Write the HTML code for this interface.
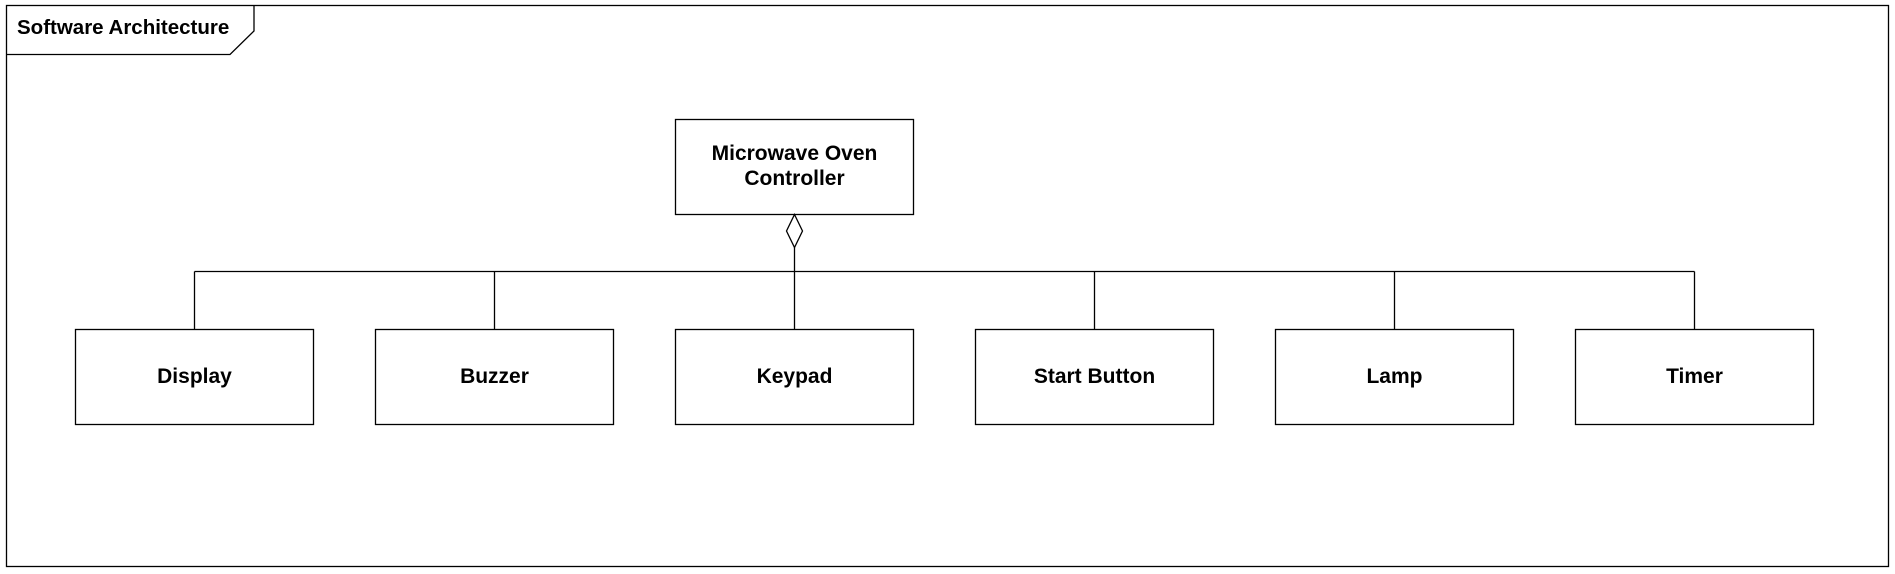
<!DOCTYPE html>
<html><head><meta charset="utf-8"><style>
html,body{margin:0;padding:0;background:#fff;}
svg{display:block;}
text{font-family:"Liberation Sans",Arial,sans-serif;font-weight:bold;font-size:21px;fill:#000;}
</style></head><body>
<svg width="1895" height="574" viewBox="0 0 1895 574" xmlns="http://www.w3.org/2000/svg">
<g fill="none" stroke="#000" stroke-width="1.3">
<rect x="6.5" y="5.5" width="1882" height="561"/>
<polyline points="6.5,54.5 230,54.5 254,31 254,5.5"/>
<rect x="675.5" y="119.5" width="238" height="95" fill="#fff"/>
<polygon points="794.5,214.5 802.5,231 794.5,247.5 786.5,231" fill="#fff"/>
<line x1="794.5" y1="247.5" x2="794.5" y2="329"/>
<line x1="194.5" y1="271.5" x2="1694.5" y2="271.5"/>
<line x1="194.5" y1="271.5" x2="194.5" y2="329"/>
<line x1="494.5" y1="271.5" x2="494.5" y2="329"/>
<line x1="1094.5" y1="271.5" x2="1094.5" y2="329"/>
<line x1="1394.5" y1="271.5" x2="1394.5" y2="329"/>
<line x1="1694.5" y1="271.5" x2="1694.5" y2="329"/>
<rect x="75.5" y="329.5" width="238" height="95"/>
<rect x="375.5" y="329.5" width="238" height="95"/>
<rect x="675.5" y="329.5" width="238" height="95"/>
<rect x="975.5" y="329.5" width="238" height="95"/>
<rect x="1275.5" y="329.5" width="238" height="95"/>
<rect x="1575.5" y="329.5" width="238" height="95"/>
</g>
<text x="17" y="34" style="font-size:20.5px">Software Architecture</text>
<g text-anchor="middle">
<text x="794.5" y="160">Microwave Oven</text>
<text x="794.5" y="185">Controller</text>
<text x="194.5" y="383">Display</text>
<text x="494.5" y="383">Buzzer</text>
<text x="794.5" y="383">Keypad</text>
<text x="1094.5" y="383">Start Button</text>
<text x="1394.5" y="383">Lamp</text>
<text x="1694.5" y="383">Timer</text>
</g>
</svg>
</body></html>
